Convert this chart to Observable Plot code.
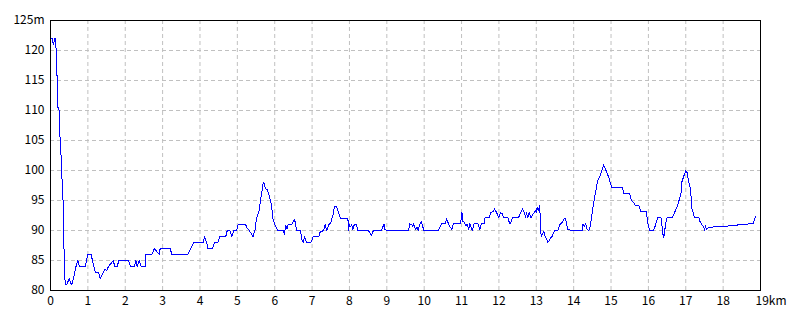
<!DOCTYPE html>
<html>
<head>
<meta charset="utf-8">
<script src="https://cdn.jsdelivr.net/npm/d3@7"></script>
<script src="https://cdn.jsdelivr.net/npm/@observablehq/plot@0.6"></script>
<style>
  html, body { margin: 0; padding: 0; background: #fff; }
  #chart svg { display: block; }
</style>
</head>
<body>
<div id="chart"></div>
<script>
const distanceKm = [
  0.00, 0.04, 0.08, 0.11, 0.143, 0.150, 0.169, 0.175, 0.196, 0.200, 0.232, 0.235, 0.259, 0.262, 0.285, 0.288,
  0.312, 0.315, 0.339, 0.342, 0.357, 0.360, 0.375, 0.380, 0.41, 0.437, 0.50, 0.553, 0.589, 0.642, 0.678, 0.731,
  0.776, 0.928, 0.999, 1.088, 1.151, 1.204, 1.284, 1.329, 1.40, 1.463, 1.50, 1.552, 1.686, 1.713, 1.793, 1.82,
  2.087, 2.141, 2.248, 2.283, 2.319, 2.373, 2.426, 2.533, 2.551, 2.712, 2.783, 2.845, 2.908, 2.935, 3.202, 3.247,
  3.675, 3.75, 3.84, 3.97, 4.09, 4.12, 4.18, 4.21, 4.33, 4.39, 4.48, 4.53, 4.69, 4.73, 4.80, 4.85,
  4.91, 4.98, 5.02, 5.22, 5.27, 5.32, 5.38, 5.42, 5.47, 5.51, 5.58, 5.64, 5.69, 5.71, 5.75, 5.80,
  5.85, 5.91, 5.96, 6.02, 6.08, 6.23, 6.26, 6.29, 6.33, 6.36, 6.45, 6.49, 6.53, 6.56, 6.58, 6.69,
  6.72, 6.76, 6.80, 6.85, 6.97, 7.03, 7.18, 7.21, 7.31, 7.35, 7.39, 7.45, 7.50, 7.56, 7.60, 7.65,
  7.71, 7.76, 7.96, 7.97, 8.00, 8.03, 8.06, 8.09, 8.13, 8.19, 8.22, 8.50, 8.55, 8.59, 8.64, 8.86,
  8.90, 8.93, 8.95, 9.00, 9.59, 9.60, 9.66, 9.69, 9.72, 9.77, 9.81, 9.84, 9.88, 9.92, 9.96, 9.99,
  10.38, 10.47, 10.56, 10.60, 10.64, 10.69, 10.74, 10.78, 10.96, 10.98, 11.01, 11.03, 11.06, 11.12, 11.15, 11.19,
  11.22, 11.25, 11.29, 11.33, 11.44, 11.49, 11.53, 11.60, 11.63, 11.74, 11.78, 11.85, 11.88, 11.94, 11.99, 12.04,
  12.09, 12.13, 12.24, 12.29, 12.33, 12.36, 12.49, 12.54, 12.58, 12.63, 12.69, 12.71, 12.74, 12.77, 12.81, 12.86,
  12.90, 12.95, 12.98, 13.01, 13.02, 13.05, 13.09, 13.11, 13.13, 13.17, 13.20, 13.24, 13.28, 13.31, 13.38, 13.43,
  13.49, 13.58, 13.64, 13.67, 13.72, 13.77, 13.81, 13.84, 14.23, 14.25, 14.29, 14.32, 14.36, 14.41, 14.45, 14.48,
  14.51, 14.55, 14.59, 14.64, 14.70, 14.74, 14.79, 14.80, 14.84, 14.89, 14.95, 14.98, 15.03, 15.31, 15.34, 15.50,
  15.54, 15.61, 15.66, 15.75, 15.79, 15.94, 15.96, 15.99, 16.03, 16.14, 16.19, 16.25, 16.34, 16.37, 16.38, 16.41,
  16.43, 16.46, 16.50, 16.63, 16.68, 16.72, 16.77, 16.82, 16.88, 16.90, 16.95, 17.00, 17.04, 17.07, 17.13, 17.16,
  17.20, 17.24, 17.35, 17.38, 17.44, 17.48, 17.50, 17.53, 17.55, 17.59, 17.75, 18.04, 18.36, 18.69, 18.80, 18.84,
  18.87
];
const elevationM = [
  122, 122, 121, 122, 122, 119.5, 119, 115.5, 115, 110.5, 110, 106, 105.5, 103, 102.5, 99,
  98.5, 95.5, 95, 92.5, 92, 87, 86.5, 82, 81, 81, 82, 81, 81.3, 82.8, 83.9, 85,
  84, 84, 86, 86, 84.2, 83, 83, 82, 82.8, 83.6, 83.3, 84, 85, 84, 84, 85,
  85, 84, 84, 85, 84, 85, 84, 84, 86, 86, 87, 86.5, 86, 87, 87, 86,
  86, 87, 88, 88, 88, 89, 88, 87, 87, 88, 88, 89, 89, 90, 90, 89,
  90, 90, 91, 91, 90.3, 90, 89.4, 89, 90, 92, 93.3, 95.8, 97.8, 98, 97, 96.8,
  95.8, 94.4, 91.7, 90.8, 90, 90, 89.3, 90.8, 90.3, 91, 91, 91.4, 91.8, 91.1, 90, 90,
  88.6, 88, 89, 88, 88, 89, 89, 89.7, 90, 91, 90, 91, 91.3, 92.6, 94, 94,
  92.9, 92, 92, 90, 91, 90.6, 91, 90.2, 91, 91, 90, 90, 89.6, 89.1, 90, 90,
  90.7, 91.1, 90.2, 90, 90, 91.1, 91, 90.7, 91.1, 90.2, 90.6, 90, 91, 91.5, 90.7, 90,
  90, 91.1, 91.1, 92, 91.3, 90.6, 90.2, 91.1, 91.1, 91.5, 93, 91.5, 91.5, 90.7, 91.1, 90.2,
  91.1, 90.7, 90, 91.1, 91.1, 90.1, 91.1, 91.1, 92.1, 92.1, 93, 93.2, 93.6, 93, 92.1, 93,
  92.8, 92.1, 92.1, 91.1, 91.5, 92.1, 92.1, 92.3, 93, 93.6, 92.9, 92.1, 93, 92.1, 93, 92.1,
  92.6, 93, 93.3, 93, 93.9, 93.3, 94.1, 91.7, 89, 89.4, 89.8, 89, 88.6, 88, 88.7, 89.1,
  90, 90, 91.1, 91.1, 91.7, 92.1, 91.2, 90.1, 90, 91.1, 90.7, 91.1, 90.2, 90, 90.8, 92.3,
  93.7, 95.1, 96.5, 98.2, 99, 99.8, 100.7, 101, 100.4, 99.6, 98.7, 97.9, 97.1, 97.1, 96.1, 96.1,
  95.1, 94.6, 94.1, 94.1, 93.2, 93.2, 92.3, 91.1, 90, 90, 90.9, 92.1, 92.1, 90.4, 89.6, 88.9,
  89.6, 91.1, 92.1, 92.1, 92.6, 93.3, 94, 95, 96.5, 98.2, 99.1, 100, 99.6, 98.4, 96.9, 93.7,
  92.9, 92.1, 92.1, 91.5, 90.9, 90.6, 90, 90.9, 90.1, 90.4, 90.6, 90.7, 90.9, 91.1, 91.1, 91.9,
  92.3
];
const xTicks = [0, 1, 2, 3, 4, 5, 6, 7, 8, 9, 10, 11, 12, 13, 14, 15, 16, 17, 18];
const xEndTick = [19];
const yTicks = [80, 85, 90, 95, 100, 105, 110, 115, 120, 125];
const xUnit = "km";
const yUnit = "m";

const profile = distanceKm.map((d, i) => ({km: d, m: elevationM[i]}));
const xGrid = xTicks.filter(t => t > 0);
const yGrid = yTicks.filter(t => t > 80 && t < 125);

const chart = Plot.plot({
  width: 800,
  height: 320,
  marginLeft: 50,
  marginRight: 40,
  marginTop: 20,
  marginBottom: 30,
  style: {fontFamily: "'Noto Sans CJK JP', 'DejaVu Sans', sans-serif", fontSize: "12px", color: "#000", background: "#fff"},
  x: {domain: [0, 19]},
  y: {domain: [80, 125]},
  marks: [
    Plot.ruleX(xGrid, {stroke: "#c0c0c0", strokeDasharray: "4,3", strokeWidth: 1}),
    Plot.ruleY(yGrid, {stroke: "#c0c0c0", strokeDasharray: "4,3", strokeWidth: 1}),
    Plot.line(profile, {x: "km", y: "m", stroke: "#0000ff", strokeWidth: 1, shapeRendering: "crispEdges"}),
    Plot.frame({stroke: "#000", strokeWidth: 1}),
    Plot.axisY({ticks: yTicks, tickSize: 0, tickPadding: 6, label: null,
      tickFormat: d => d === 125 ? d + yUnit : String(d)}),
    Plot.axisX({ticks: xTicks, tickSize: 0, tickPadding: 6, label: null, tickFormat: d => String(d)}),
    Plot.text(xEndTick, {x: d => d, frameAnchor: "bottom", dy: 6, lineAnchor: "top", textAnchor: "start", dx: -5, text: d => d + xUnit})
  ]
});
document.getElementById("chart").appendChild(chart);
</script>
</body>
</html>
